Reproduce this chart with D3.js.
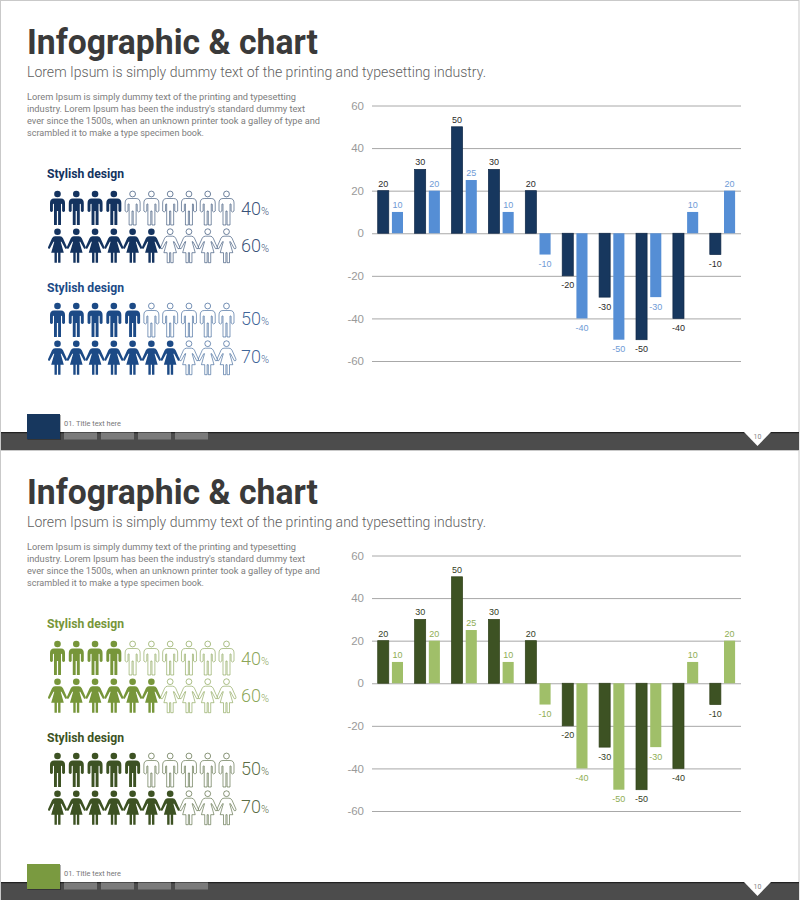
<!DOCTYPE html>
<html><head><meta charset="utf-8">
<script src="https://cdn.jsdelivr.net/npm/d3@7/dist/d3.min.js"></script>
<style>html,body{margin:0;padding:0;background:#fff}svg{display:block}text{font-family:Roboto,sans-serif}</style>
</head><body><svg id="c" width="800" height="900"></svg>
<script>
const categories = ["A","B","C","D","E","F","G","H","I","J"];
const seriesDark = [20,30,50,30,20,-20,-30,-50,-40,-10];
const seriesLight = [10,20,25,10,-10,-40,-50,-30,10,20];
const yTicks = [60,40,20,0,-20,-40,-60];
const groupShares = [[40,60],[50,70]];
const iconSlots = [0,1,2,3,4,5,6,7,8,9];
const titleText = "Infographic & chart";
const subtitleText = "Lorem Ipsum is simply dummy text of the printing and typesetting industry.";
const bodyLines = ["Lorem Ipsum is simply dummy text of the printing and typesetting",
  "industry. Lorem Ipsum has been the industry's standard dummy text",
  "ever since the 1500s, when an unknown printer took a galley of type and",
  "scrambled it to make a type specimen book."];
const bodyWidths = [269,278,293,177];
const groupTitle = "Stylish design";
const footerText = "01. Title text here";
const pageNumber = "10";
const footerTabs = [0,1,2,3];
const panels = [
 {dark:"#17375e",edge:"#0f2746",light:"#558ed5",lightText:"#6f9bd6",darkText:"#2b2b2b",g:["#14335f","#1c4a86"],sq:"#17375e",offset:0},
 {dark:"#3d5223",edge:"#2f4019",light:"#a0bf69",lightText:"#8fae55",darkText:"#35401f",g:["#77963a","#3d5223"],sq:"#7a9a40",offset:450}
];
const manPath="M-3.5,4.5L3.5,4.5Q7.5,4.5 7.5,9L7.5,17Q6,19 4.6,17L4.6,10.5Q4.4,9.5 3.5,10L3.5,31L.6,31L.6,17L-.6,17L-.6,31L-3.5,31L-3.5,10Q-4.4,9.5 -4.6,10.5L-4.6,17Q-6,19 -7.5,17L-7.5,9Q-7.5,4.5 -3.5,4.5Z";
const womanPath="M-2.5,4.5L2.5,4.5Q4.5,4.5 5.5,6.5L9.5,15.5Q9.7,17.5 7.8,17L4,10L3.2,10L6.3,21L3,21L3,31L.6,31L.6,21L-.6,21L-.6,31L-3,31L-3,21L-6.3,21L-3.2,10L-4,10L-7.8,17Q-9.7,17.5 -9.5,15.5L-5.5,6.5Q-4.5,4.5 -2.5,4.5Z";

const svg=d3.select("#c");
const x0=d3.scaleBand().domain(categories).range([372,741]);
const x1=d3.scaleBand().domain([0,1]).range([5.7,31]).paddingInner(0.22);
const y=d3.scaleLinear().domain([-60,60]).range([361,105.5]);
const iconX=d3.scaleLinear().domain([0,9]).range([57.5,226.5]);
const narrow="'Liberation Sans Narrow','Liberation Sans',Arial,sans-serif";

panels.forEach(p=>{
  const g=svg.append("g").attr("transform",`translate(0,${p.offset})`);
  g.append("rect").attr("x",.5).attr("y",.5).attr("width",798.5).attr("height",449).attr("fill","#fff").attr("stroke","#c9c9c9");
  g.append("text").attr("x",27).attr("y",54).attr("font-size",35).attr("font-weight",700).attr("fill","#3a3a3a")
    .attr("textLength",291).attr("lengthAdjust","spacingAndGlyphs").text(titleText);
  g.append("text").attr("x",27).attr("y",77).attr("font-size",14).attr("font-weight",300).attr("fill","#5f5f5f")
    .attr("textLength",459).attr("lengthAdjust","spacingAndGlyphs").text(subtitleText);
  g.selectAll(".b").data(bodyLines).join("text").attr("x",27).attr("y",(d,i)=>100+i*11.9)
    .attr("font-size",8.5).attr("fill","#7d7d7d").attr("textLength",(d,i)=>bodyWidths[i]).attr("lengthAdjust","spacingAndGlyphs").text(d=>d);

  groupShares.forEach((shares,gi)=>{
    const col=p.g[gi], top=gi*112;
    g.append("text").attr("x",47).attr("y",178+gi*114).attr("font-size",12.5).attr("font-weight",700).attr("fill",col)
      .attr("textLength",77).attr("lengthAdjust","spacingAndGlyphs").text(groupTitle);
    shares.forEach((share,ri)=>{
      const headY=194+top+ri*37.7, path=ri?womanPath:manPath, n=share/10;
      const icons=g.selectAll(null).data(iconSlots.slice().reverse()).join("g")
        .attr("transform",d=>`translate(${iconX(d)},${headY})`);
      icons.each(function(d){
        const on=d<n, s=d3.select(this);
        s.append("circle").attr("r",on?3.3:2.9).attr("fill",on?col:"#fff").attr("stroke",on?"none":col).attr("stroke-opacity",.6).attr("stroke-width",1);
        s.append("path").attr("d",path).attr("fill",on?col:"#fff").attr("stroke",on?"none":col).attr("stroke-opacity",.55).attr("stroke-width",1);
      });
      const t=g.append("text").attr("x",241).attr("y",headY+(gi?19:20.5)).attr("font-size",18).attr("font-weight",300).attr("fill",col).attr("fill-opacity",.85);
      t.append("tspan").text(share);
      t.append("tspan").attr("font-size",11).text("%");
    });
  });

  const ax=g.append("g").attr("transform","translate(372,0)")
    .call(d3.axisLeft(y).tickValues(yTicks).tickFormat(d=>String(d)).tickSize(-369).tickPadding(8));
  ax.select(".domain").remove();
  ax.selectAll("line").attr("stroke","#a8a8a8").attr("stroke-width",1);
  ax.selectAll("text").attr("fill","#9a9a9a").attr("font-size",11.5).style("font-family","'Liberation Sans',Arial,sans-serif");

  [seriesDark,seriesLight].forEach((vals,si)=>{
    const color=si?p.light:p.dark, tc=si?p.lightText:p.darkText;
    g.selectAll(null).data(vals).join("rect")
      .attr("x",(d,i)=>x0(categories[i])+x1(si)).attr("width",x1.bandwidth())
      .attr("y",d=>y(Math.max(d,0))).attr("height",d=>Math.abs(y(d)-y(0))).attr("fill",color)
      .attr("stroke",si?"none":p.edge).attr("stroke-width",.7);
    g.selectAll(null).data(vals).join("text")
      .attr("x",(d,i)=>x0(categories[i])+x1(si)+x1.bandwidth()/2)
      .attr("y",d=>d>=0?y(d)-4:y(d)+12.5).attr("text-anchor","middle")
      .attr("font-size",9).attr("fill",tc).style("font-family",narrow).text(d=>d);
  });

  g.append("rect").attr("x",1).attr("y",432).attr("width",798).attr("height",18).attr("fill","#4c4c4c");
  g.append("rect").attr("x",1).attr("y",432).attr("width",798).attr("height",1.2).attr("fill","#222");
  g.selectAll(null).data(footerTabs).join("rect").attr("x",d=>64+d*37).attr("y",432.5).attr("width",33).attr("height",7).attr("fill","#7b7b7b");
  g.append("rect").attr("x",27.5).attr("y",415).attr("width",33.5).attr("height",25).attr("fill","#000").attr("opacity",.3);
  g.append("rect").attr("x",27).attr("y",414).attr("width",33).attr("height",25).attr("fill",p.sq);
  g.append("text").attr("x",64).attr("y",425.5).attr("font-size",7).attr("fill","#777")
    .attr("textLength",57).attr("lengthAdjust","spacingAndGlyphs").text(footerText);
  g.append("path").attr("d","M744,432L771,432L757.5,446Z").attr("fill","#fff");
  g.append("text").attr("x",757.5).attr("y",439).attr("text-anchor","middle").attr("font-size",7).attr("fill","#888").text(pageNumber);
});
</script></body></html>
